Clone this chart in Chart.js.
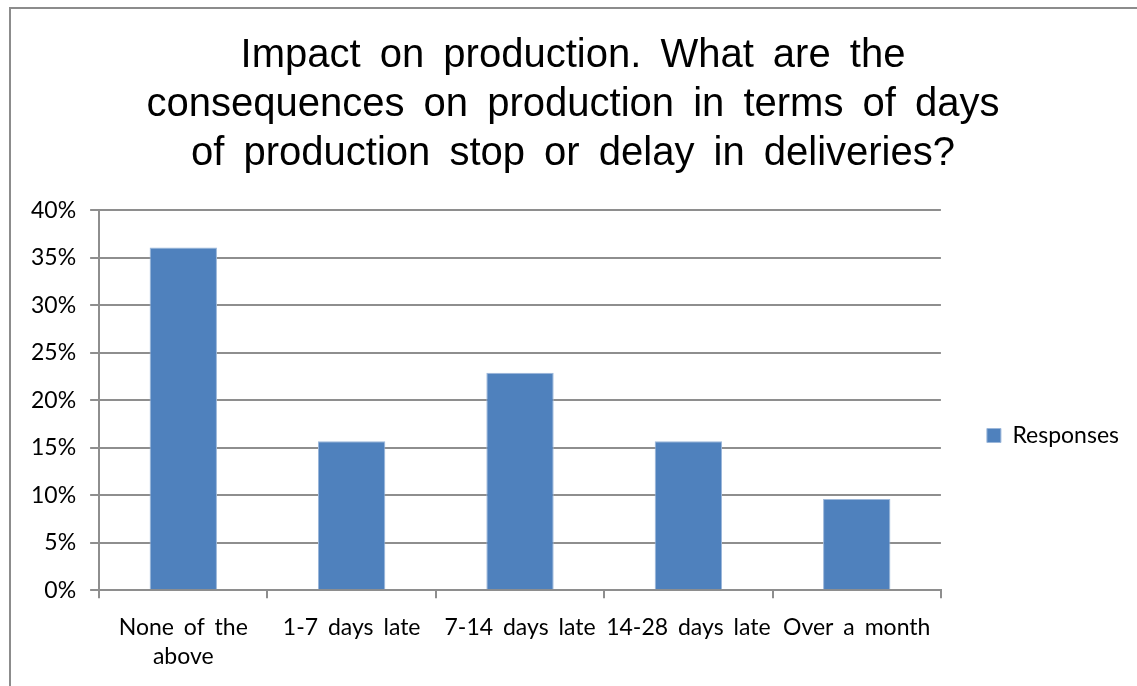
<!DOCTYPE html>
<html>
<head>
<meta charset="utf-8">
<script src="https://cdn.jsdelivr.net/npm/chart.js@4.4.1/dist/chart.umd.min.js"></script>
<style>
  html, body { margin: 0; padding: 0; background: #fff; overflow: hidden; }
  #wrap { position: absolute; left: 0; top: 0; width: 1137px; height: 686px; }
  #frame { position: absolute; left: 9px; top: 7px; width: 1140px; height: 700px;
           border: 2px solid #8c8c8c; box-sizing: border-box; pointer-events: none; }
</style>
</head>
<body>
<div id="wrap"><canvas id="chart" width="1137" height="686"></canvas></div>
<div id="frame"></div>
<script>
const categories = [["None of the", "above"], "1-7 days late", "7-14 days late", "14-28 days late", "Over a month"];
const responses = [36.1, 15.7, 22.9, 15.7, 9.6];
const titleLines = [
  "Impact on production. What are the",
  "consequences on production in terms of days",
  "of production stop or delay in deliveries?"
];

const gridColor = "#8e8e8e";
const labelFont = { family: "Lato, 'Liberation Sans', sans-serif", size: 23, lineHeight: 1.3 };

// Excel-like wide word spacing: wider in the title, a bit less in the tick labels
const wordSpacing = {
  id: "wordSpacing",
  beforeDraw(chart) {
    chart.ctx.wordSpacing = "8px";
  },
  afterDatasetsDraw(chart) {
    chart.ctx.wordSpacing = "4px";
  }
};

const ctx = document.getElementById("chart").getContext("2d");
new Chart(ctx, {
  type: "bar",
  data: {
    labels: categories,
    datasets: [{
      label: "Responses",
      data: responses,
      backgroundColor: "#4f81bd",
      borderColor: "#9bb7da",
      borderWidth: 1,
      categoryPercentage: 1,
      barPercentage: 0.4,
    }]
  },
  plugins: [wordSpacing],
  options: {
    responsive: false,
    animation: false,
    layout: {
      padding: { left: 17, right: 8, top: 0, bottom: 0 }
    },
    plugins: {
      title: {
        display: true,
        text: titleLines,
        color: "#000",
        font: { family: "'Liberation Sans', Arial, sans-serif", size: 40, weight: "normal", lineHeight: 1.22 },
        padding: { top: 32, bottom: 32 },
      },
      legend: {
        position: "right",
        align: "start",
        labels: {
          color: "#000",
          font: labelFont,
          boxWidth: 14,
          boxHeight: 14,
          padding: 46,
        },
        title: {
          display: true,
          text: " ",
          font: { size: 10, lineHeight: 1 },
          padding: { top: 368, bottom: 0 },
        },
      },
      tooltip: { enabled: false },
    },
    scales: {
      x: {
        offset: true,
        grid: {
          offset: true,
          drawOnChartArea: false,
          drawTicks: true,
          tickLength: 8,
          color: gridColor,
          lineWidth: 2,
        },
        border: { color: gridColor, width: 2 },
        ticks: {
          z: 1,
          color: "#000",
          font: labelFont,
          padding: 14,
          maxRotation: 0,
          autoSkip: false,
        },
      },
      y: {
        min: 0,
        max: 40,
        grid: {
          color: gridColor,
          lineWidth: 2,
          tickLength: 9,
        },
        border: { color: gridColor, width: 2 },
        ticks: {
          z: 1,
          stepSize: 5,
          color: "#000",
          font: labelFont,
          padding: 14,
          callback: (v) => v + "%",
        },
      },
    },
  },
});
</script>
</body>
</html>
